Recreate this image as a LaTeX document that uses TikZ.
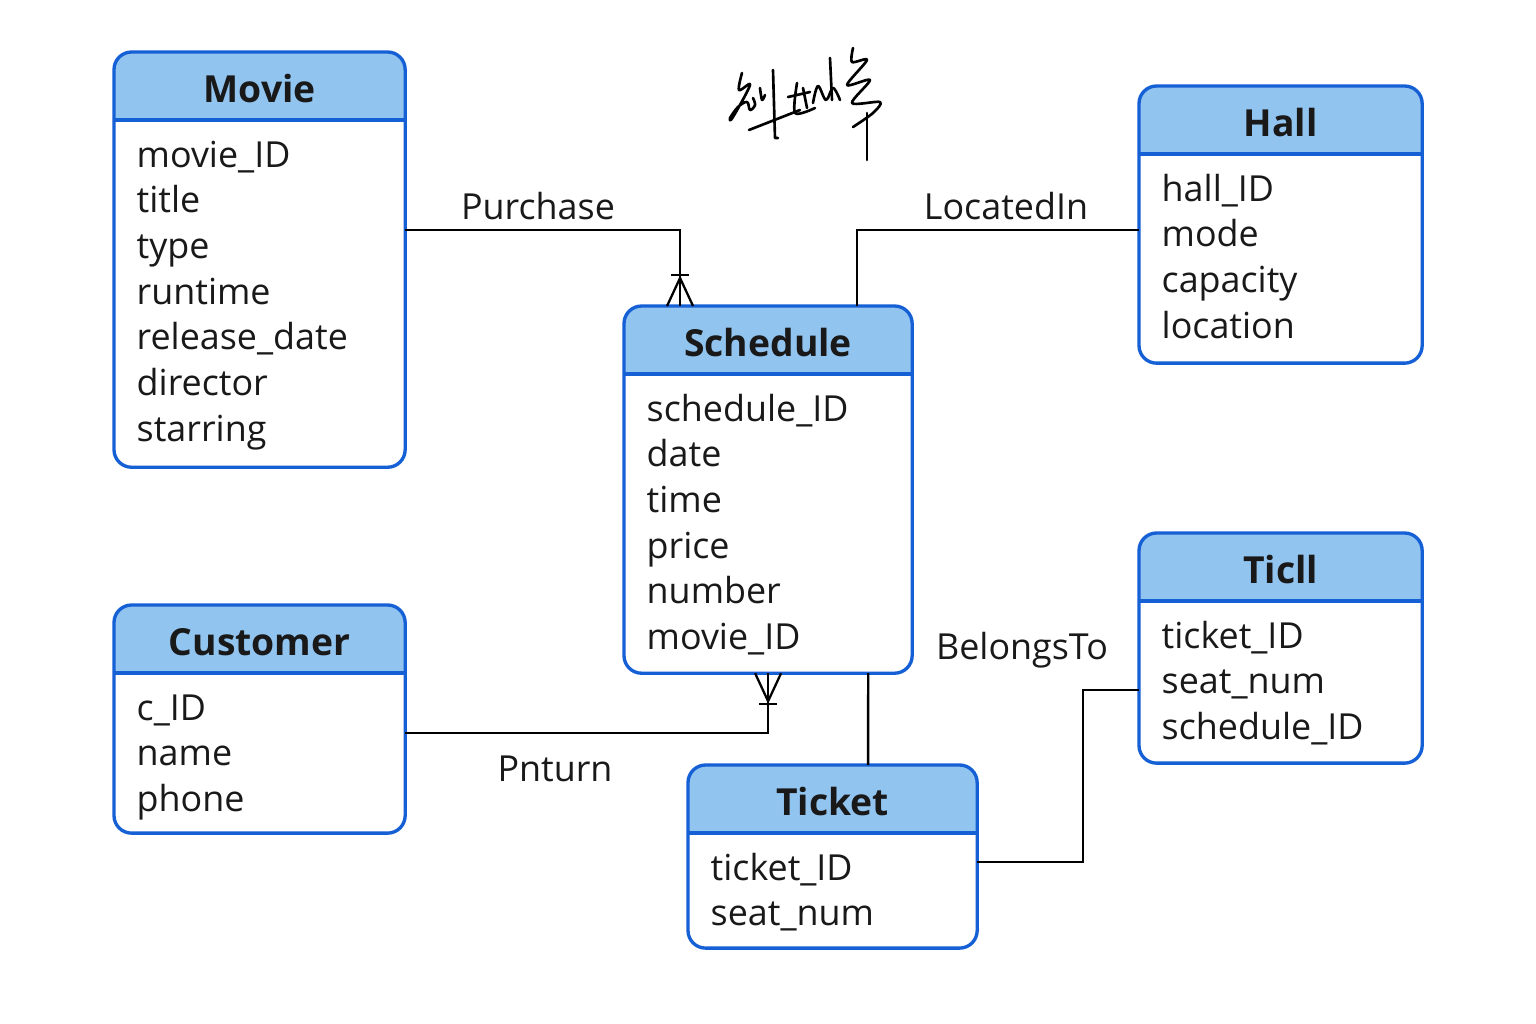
\documentclass[tikz,border=0pt]{standalone}
\usepackage{fontspec}
\setmainfont{Open Sans}
\usetikzlibrary{calc}
\definecolor{entline}{RGB}{22,96,214}
\definecolor{hdrfill}{RGB}{146,196,240}
\tikzset{
  entity/.style={draw=entline, line width=0.95pt, rounded corners=5pt, fill=white,
    anchor=north west, inner sep=0pt, outer sep=0pt,
    path picture={
      \fill[hdrfill, sharp corners] (path picture bounding box.north west)
        rectangle ([yshift=-0.68cm]path picture bounding box.north east);
      \draw[entline, line width=1.1pt, sharp corners]
        ([yshift=-0.68cm]path picture bounding box.north west)
        -- ([yshift=-0.68cm]path picture bounding box.north east);
    }},
  enttitle/.style={font=\fontsize{10.6}{12}\selectfont\bfseries, text=black!90},
  field/.style={font=\fontsize{10.2}{12}\selectfont, anchor=base west, inner sep=0pt, text=black!90},
  rlabel/.style={font=\fontsize{10.2}{12}\selectfont, inner sep=0pt, text=black!90},
  rel/.style={draw=black, line width=0.65pt},
  crow/.pic={\draw[rel] (-13,0) -- (0,-28) -- (13,0); \draw[rel] (-9,-31) -- (9,-31);},
  sign/.style={line width=0.75pt, line cap=round, line join=round}
}
% entity box: name, x, y, width, height, title, fields
\newcommand\entity[7]{%
  \node[entity, minimum width=#4, minimum height=#5] (#1) at (#2,#3) {};
  \node[enttitle] (#1-title) at ($(#1.north)+(0,37)$) {#6};
  \foreach \fname [count=\i] in {#7}
    \node[field] (#1-f\i) at ($(#1.north west)+(22,115)+(0,{45.7*(\i-1)})$) {\fname};
}

\begin{document}
\begin{tikzpicture}[x=0.01cm, y=-0.01cm]
  \useasboundingbox[fill=white] (0,0) rectangle (1536,1024);

  % entities
  \entity{movie}{114}{52}{2.91cm}{4.15cm}{Movie}{movie\_ID,title,type,runtime,release\_date,director,starring}
  \entity{hall}{1139}{86}{2.83cm}{2.77cm}{Hall}{hall\_ID,mode,capacity,location}
  \entity{schedule}{624}{306}{2.88cm}{3.67cm}{Schedule}{schedule\_ID,date,time,price,number,movie\_ID}
  \entity{customer}{114}{605}{2.91cm}{2.28cm}{Customer}{c\_ID,name,phone}
  \entity{ticll}{1139}{533}{2.83cm}{2.30cm}{Ticll}{ticket\_ID,seat\_num,schedule\_ID}
  \entity{ticket}{688}{765}{2.89cm}{1.83cm}{Ticket}{ticket\_ID,seat\_num}

  % relations
  \draw[rel] ([yshift=0.295cm]movie.east) -| ([xshift=-0.88cm]schedule.north);
  \pic at ([xshift=-0.88cm]schedule.north) {crow};
  \draw[rel] ([xshift=0.89cm]schedule.north) |- ([yshift=-0.055cm]hall.west);
  \draw[rel] ([yshift=-0.14cm]customer.east) -| (schedule.south);
  \pic[yscale=-1] at (schedule.south) {crow};
  \draw[rel] ([xshift=1cm]schedule.south) -- ([xshift=0.355cm]ticket.north);
  \draw[rel] ([yshift=-0.055cm]ticket.east) -| ([xshift=-0.56cm,yshift=-0.42cm]ticll.west)
    -- ([yshift=-0.42cm]ticll.west);

  \node[rlabel] (purchase) at (538,206) {Purchase};
  \node[rlabel] (locatedin) at (1006,206) {LocatedIn};
  \node[rlabel] (pnturn) at (555,769) {Pnturn};
  \node[rlabel] (belongsto) at (1022,650) {BelongsTo};

  % signature
  \draw[sign] plot[smooth, tension=0.6] coordinates {(742,73) (739,90) (750,85) (733,117) (730,118) (738,107) (747,102) (750,110) (755,105) (753,98)};
  \draw[sign] plot[smooth, tension=0.5] coordinates {(760,88) (762,100) (765,95)};
  \draw[sign] (773,70) -- (775,138) -- (778,138);
  \draw[sign] (749,130) -- (800,110);
  \draw[sign] (788,97) -- (810,92);
  \draw[sign] plot[smooth, tension=0.5] coordinates {(797,83) (795,113) (815,108)};
  \draw[sign] (803,88) -- (807,108);
  \draw[sign] plot[smooth, tension=0.6] coordinates {(813,103) (818,86) (826,100) (833,88) (840,100)};
  \draw[sign] (830,58) -- (832,100);
  \draw[sign] plot[smooth, tension=0.5] coordinates {(853,48) (852,62) (867,60) (847,85) (870,80) (852,103) (880,102) (873,113) (853,127)};
  \draw[sign] (867,113) -- (867,160);
\end{tikzpicture}
\end{document}
